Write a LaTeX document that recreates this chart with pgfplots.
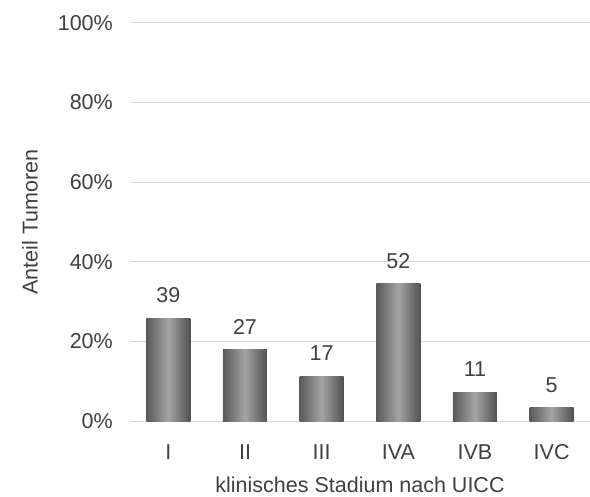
\documentclass[border=0pt]{standalone}
\usepackage{fontspec}
\setmainfont{Liberation Sans}
\usepackage{pgfplots}
\pgfplotsset{compat=1.18}
\definecolor{txt}{HTML}{404040}
\definecolor{grd}{HTML}{D9D9D9}
\definecolor{bdark}{HTML}{5A5A5A}
\definecolor{blight}{HTML}{A4A4A4}
\begin{document}
\begin{tikzpicture}
\useasboundingbox (-130bp,-76bp) rectangle (460bp,421bp);
\begin{axis}[
  scale only axis, width=460bp, height=398bp,
  xmin=-0.5, xmax=5.5, ymin=0, ymax=100,
  axis line style={draw=none},
  ytick={0,20,...,100}, ymajorgrids,
  major grid style={grd, line width=1bp},
  xtick={0,...,5}, xticklabels={I,II,III,IVA,IVB,IVC},
  major tick length=0pt,
  yticklabel={\pgfmathprintnumber{\tick}\%},
  /pgf/number format/assume math mode=true,
  font=\fontsize{21.5bp}{25bp}\selectfont,
  tick label style={text=txt},
  yticklabel style={anchor=east, inner sep=0pt, xshift=-17bp},
  xticklabel style={anchor=center, inner sep=0pt, yshift=-31bp},
  xlabel={klinisches Stadium nach UICC},
  ylabel={Anteil Tumoren},
  x label style={text=txt, at={(rel axis cs:0.5,0)}, anchor=center, yshift=-64bp},
  y label style={text=txt, at={(rel axis cs:0,0.5)}, anchor=center, yshift=100bp},
  ybar, bar width=44bp, bar shift=0pt,
  every axis plot/.append style={draw=none,
    left color=bdark, right color=bdark!90!black, middle color=blight},
  nodes near coords, point meta=explicit symbolic,
  every node near coord/.style={text=txt, anchor=center, yshift=23bp},
]
\addplot table[x=x, y=y, meta=n] {
x y n
0 25.83 39
};
\addplot table[x=x, y=y, meta=n] {
x y n
1 17.88 27
};
\addplot table[x=x, y=y, meta=n] {
x y n
2 11.26 17
};
\addplot table[x=x, y=y, meta=n] {
x y n
3 34.44 52
};
\addplot table[x=x, y=y, meta=n] {
x y n
4 7.28 11
};
\addplot table[x=x, y=y, meta=n] {
x y n
5 3.31 5
};
\end{axis}
\end{tikzpicture}
\end{document}
